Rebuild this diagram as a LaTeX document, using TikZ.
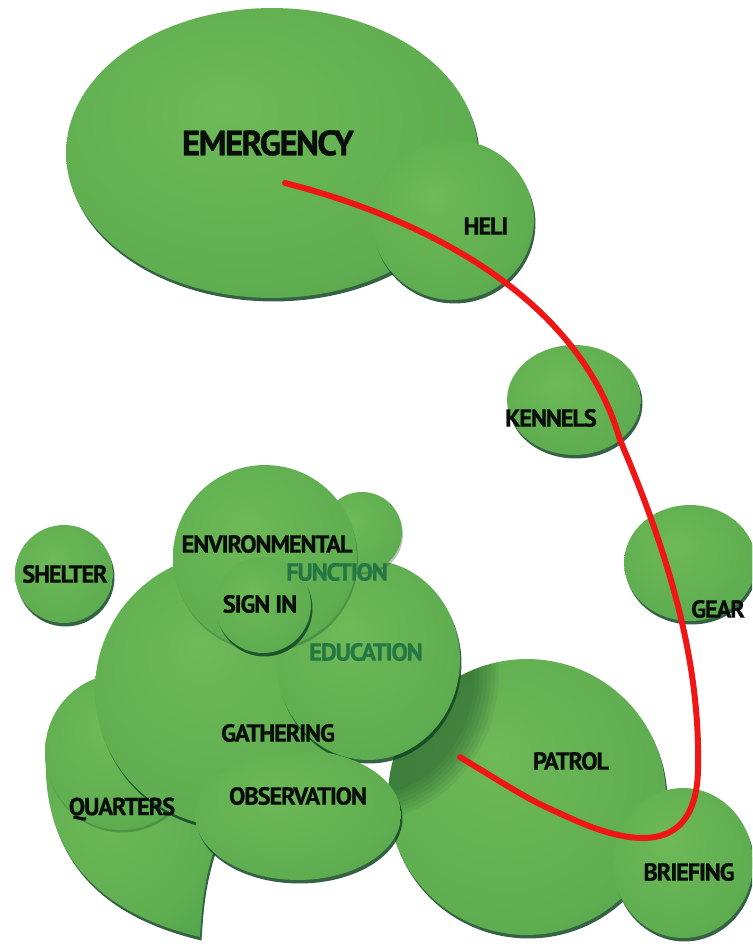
\documentclass[tikz,border=0pt]{standalone}
\usepackage{fontspec}
\newfontfamily\lblfont{PT Sans}[LetterSpace=-5, BoldFeatures={FakeBold=0.8}]
\usetikzlibrary{positioning}
\usetikzlibrary{shapes.geometric}
\usetikzlibrary{shadows}
\definecolor{bubhi}{RGB}{110,185,88}
\definecolor{bubmid}{RGB}{94,173,80}
\definecolor{bublo}{RGB}{74,158,72}
\definecolor{bubrim}{RGB}{55,140,68}
\definecolor{bubdeep}{RGB}{38,118,58}
\definecolor{bubshadow}{RGB}{18,70,36}
\definecolor{labelink}{RGB}{10,14,10}
\definecolor{faint}{RGB}{36,118,66}
\definecolor{routered}{RGB}{240,22,22}
\pgfdeclareradialshading{bubshade}{\pgfpoint{-6bp}{8bp}}{%
  color(0bp)=(bubhi); color(28bp)=(bubmid); color(44bp)=(bublo);
  color(52bp)=(bubrim); color(62bp)=(bubdeep)}
\tikzset{
  % a shaded bubble, radii given in px
  bubble/.style 2 args={
    ellipse, draw=none, shading=bubshade, inner sep=0pt,
    minimum width=#1*0.04cm, minimum height=#2*0.04cm,
    drop shadow={shadow xshift=0.03cm, shadow yshift=-0.07cm,
      fill=bubshadow, opacity=0.85}},
  % same, but with a lighter shadow (inside the cluster)
  softbubble/.style 2 args={
    ellipse, draw=none, shading=bubshade, inner sep=0pt,
    minimum width=#1*0.04cm, minimum height=#2*0.04cm,
    drop shadow={shadow xshift=0.02cm, shadow yshift=-0.05cm,
      fill=bubshadow, opacity=0.3}},
  % free-form bubble outline
  blob/.style={
    shading=bubshade,
    drop shadow={shadow xshift=0.03cm, shadow yshift=-0.07cm,
      fill=bubshadow, opacity=0.85}},
  room/.style={font=\lblfont\bfseries\fontsize{14}{14}\selectfont,
    text=labelink, inner sep=0pt},
  bigroom/.style={room, font=\lblfont\bfseries\fontsize{20}{20}\selectfont},
  ghost/.style={room, text=faint},
  route/.style={draw=routered, line width=3.4pt, line cap=round},
}

\begin{document}
\begin{tikzpicture}[x=0.02cm, y=-0.02cm]

\fill[white] (0,0) rectangle (752,952);
\useasboundingbox (0,0) rectangle (752,952);
\clip (0,0) rectangle (752,952);

% upper pair
\node[bubble={206}{145}] (emergency) at (272,153) {};
\node[bubble={81}{80}] (heli) at (453,220) {};

% outliers on the route
\node[bubble={67}{55}] (kennels) at (574,400) {};
\node[bubble={66}{58}] (gear) at (690,563) {};
\node[bubble={49}{49}] (shelter) at (64,574) {};

% patrol + briefing, patrol darkened where the cluster leans on it
\node[bubble={139}{138}] (patrol) at (527,797) {};
\begin{scope}
  \clip (527,797) ellipse [x radius=2.78cm, y radius=2.76cm];
  \foreach \g in {0,...,6}
    \fill[bubshadow, opacity=0.08]
      (368,672) ellipse [x radius=2.62cm-\g*0.08cm, y radius=2.95cm-\g*0.08cm];
\end{scope}
\node[bubble={70}{75}] (briefing) at (683,863) {};

% main cluster, back to front
\path[blob] (46,750) .. controls (40,872) and (120,918) .. (200,937)
  .. controls (202,905) and (204,882) .. (214,850)
  .. controls (170,760) and (90,740) .. cycle;
\node[softbubble={76}{78}] (quarters) at (121,752) {};
\node[bubble={137}{137}] (gathering) at (232,690) {};
\node[bubble={92}{100}] (education) at (368,660) {};
\node[softbubble={40}{40}] (function) at (362,532) {};
\node[softbubble={92}{92}] (environmental) at (265,557) {};
\node[bubble={48}{48}] (signin) at (263,605) {};
\node[bubble={103}{65}] (observation) at (298,815) {};

% labels
\node[bigroom] (emergency-label) at (268,143) {EMERGENCY};
\node[room] (heli-label) at (486,226) {HELI};
\node[room] (kennels-label) at (551,418) {KENNELS};
\node[room] (gear-label) at (718,609) {GEAR};
\node[room] (shelter-label) at (65,574) {SHELTER};
\node[room] (environmental-label) at (267,544) {ENVIRONMENTAL};
\node[ghost] (function-label) at (337,572) {FUNCTION};
\node[room] (signin-label) at (260,604) {SIGN IN};
\node[ghost] (education-label) at (366,652) {EDUCATION};
\node[room] (gathering-label) at (278,733) {GATHERING};
\node[room] (observation-label) at (298,796) {OBSERVATION};
\node[room] (quarters-label) at (122,809) {QUARTERS};
\node[room] (patrol-label) at (571,761) {PATROL};
\node[room] (briefing-label) at (689,872) {BRIEFING};

% patrol route
\coordinate (route-start) at (285,183);
\coordinate (route-kennels) at (620,440);
\coordinate (route-gear) at (698,770);
\coordinate (route-turn) at (570,818);
\coordinate (route-end) at (460,757);
\draw[route] (route-start) .. controls (430,220) and (580,300) .. (route-kennels)
  .. controls (680,580) and (700,680) .. (route-gear)
  .. controls (696,850) and (640,850) .. (route-turn)
  .. controls (530,800) .. (route-end);

\end{tikzpicture}
\end{document}
